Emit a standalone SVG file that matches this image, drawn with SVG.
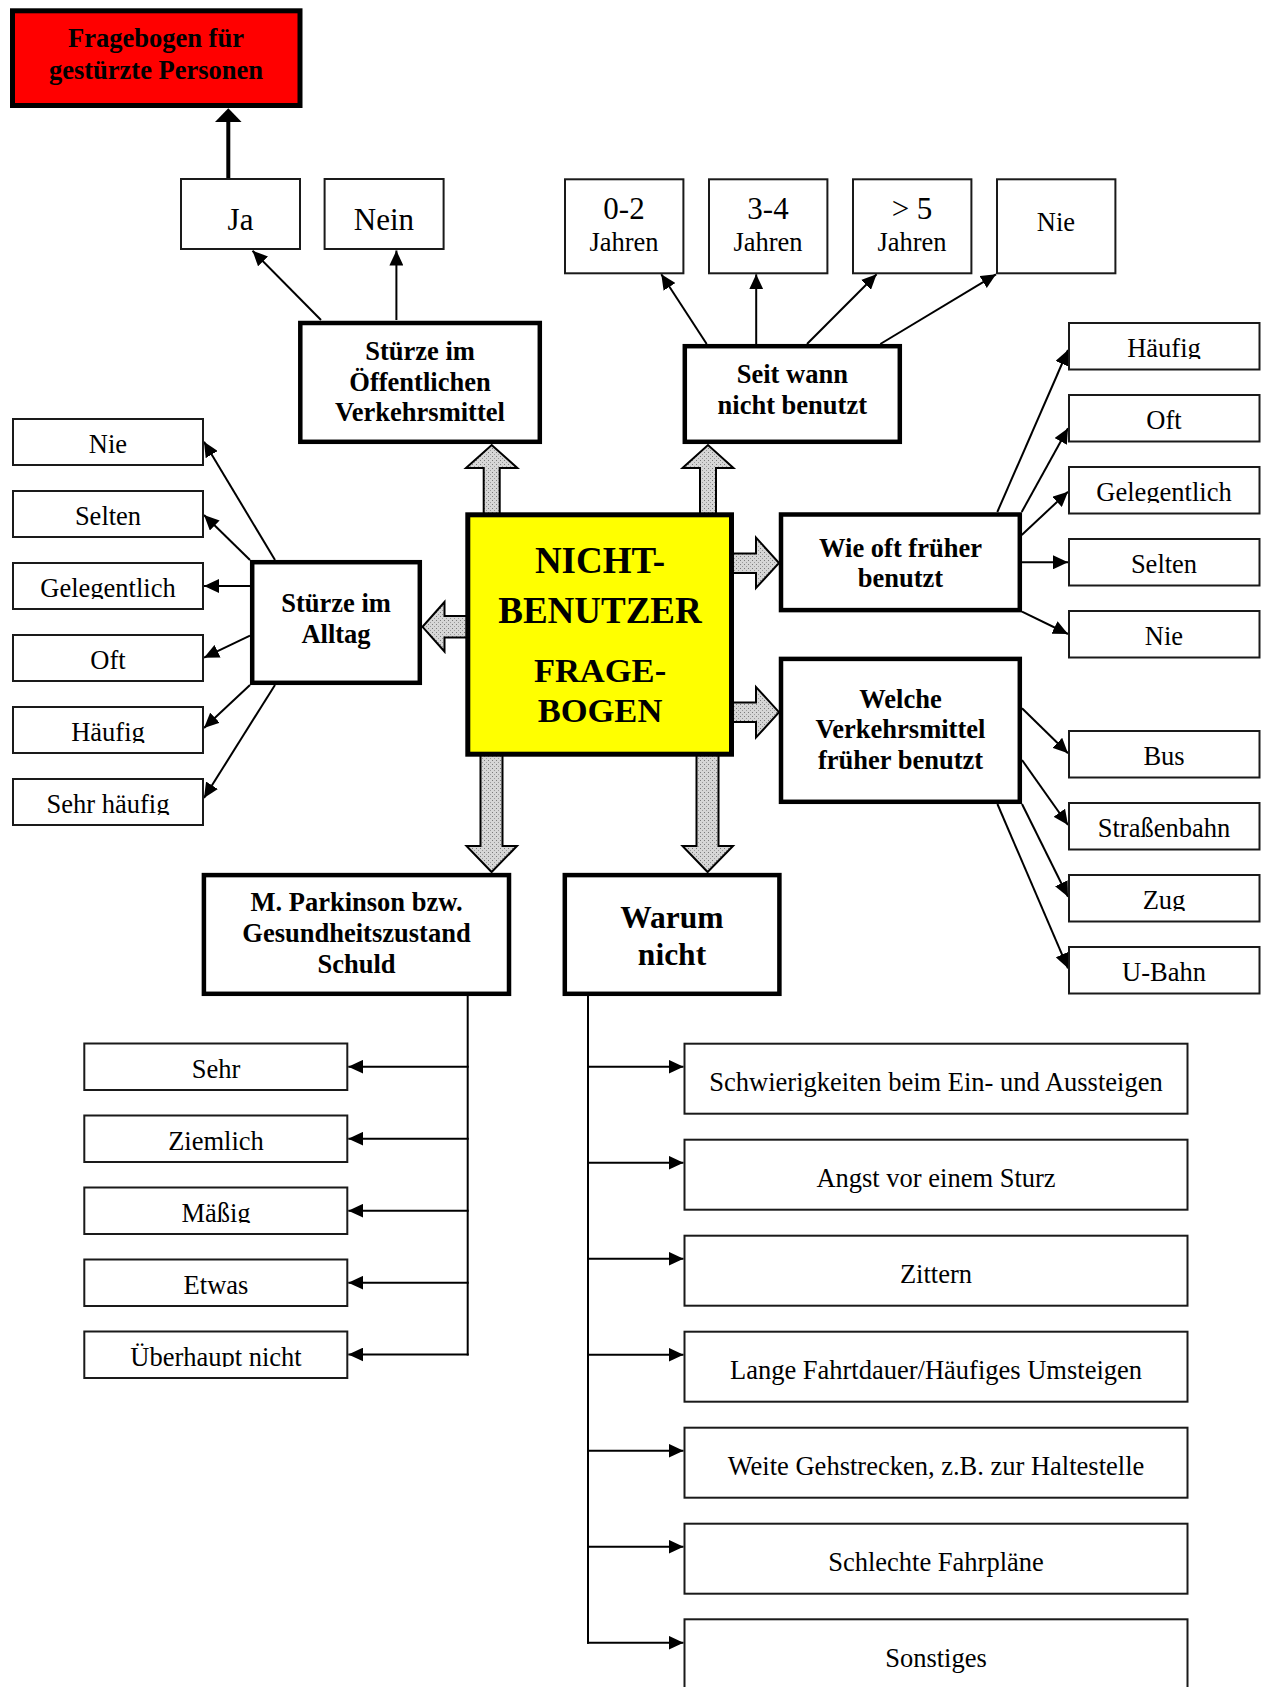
<svg xmlns="http://www.w3.org/2000/svg" width="1266" height="1687" viewBox="0 0 1266 1687">
  <style>
    .opt { fill: #ffffff; stroke: #1a1a1a; stroke-width: 2; }
    .main { fill: #ffffff; stroke: #000000; stroke-width: 4.5; }
    .t { font-family: "Liberation Serif", "Times New Roman", serif; font-size: 26.5px; fill: #000; text-anchor: middle; }
    .b { font-weight: bold; }
    .big { font-size: 31px; }
    .con { stroke: #000; stroke-width: 2; fill: none; marker-end: url(#ah); }
    .hollow { fill: url(#dots); stroke: #000; stroke-width: 2; stroke-linejoin: miter; }
  </style>
  <defs>
    <marker id="ah" markerUnits="userSpaceOnUse" markerWidth="15" markerHeight="14" refX="15" refY="7" orient="auto">
      <path d="M0,0 L15,7 L0,14 z" fill="#000"/>
    </marker>
    <pattern id="dots" patternUnits="userSpaceOnUse" width="4" height="4">
      <rect width="4" height="4" fill="#d6d6d6"/>
      <rect x="0" y="0" width="1" height="1" fill="#7a7a7a"/>
      <rect x="2" y="2" width="1" height="1" fill="#9a9a9a"/>
    </pattern>
    <!-- descenders are cut at the bottom of the text frame -->
    <clipPath id="c-lGel" clipPathUnits="userSpaceOnUse"><rect x="12" y="562" width="192" height="37"/></clipPath>
    <clipPath id="c-lHae" clipPathUnits="userSpaceOnUse"><rect x="12" y="706" width="192" height="37"/></clipPath>
    <clipPath id="c-lSeh" clipPathUnits="userSpaceOnUse"><rect x="12" y="778" width="192" height="37"/></clipPath>
    <clipPath id="c-rHae" clipPathUnits="userSpaceOnUse"><rect x="1068" y="322" width="193" height="37"/></clipPath>
    <clipPath id="c-rGel" clipPathUnits="userSpaceOnUse"><rect x="1068" y="466" width="193" height="37"/></clipPath>
    <clipPath id="c-rZug" clipPathUnits="userSpaceOnUse"><rect x="1068" y="874" width="193" height="37"/></clipPath>
    <clipPath id="c-Mae" clipPathUnits="userSpaceOnUse"><rect x="84" y="1186" width="264" height="37"/></clipPath>
    <clipPath id="c-Ueb" clipPathUnits="userSpaceOnUse"><rect x="84" y="1330" width="264" height="37"/></clipPath>
  </defs>

  <rect width="1266" height="1687" fill="#ffffff"/>

  <!-- connectors -->
  <g id="connectors">
    <!-- hatched block arrows around the central node -->
    <polygon class="hollow" points="483.7,514 483.7,468 466,468 491.7,445 517.4,468 499.7,468 499.7,514"/>
    <polygon class="hollow" points="700,514 700,468 682.5,468 708,445 733.5,468 716,468 716,514"/>
    <polygon class="hollow" points="467,616 444.5,616 444.5,602 422.5,626.8 444.5,651.5 444.5,637.5 467,637.5"/>
    <polygon class="hollow" points="732,553.5 756,553.5 756,537.5 779,563 756,588 756,573 732,573"/>
    <polygon class="hollow" points="732,702.5 756,702.5 756,687 779,712.2 756,737.5 756,722 732,722"/>
    <polygon class="hollow" points="480.5,755 480.5,846 466.5,846 491.6,872 517,846 502.5,846 502.5,755"/>
    <polygon class="hollow" points="696.5,755 696.5,846 682.5,846 707.6,872 733,846 718.5,846 718.5,755"/>

    <!-- Ja to the follow-up questionnaire -->
    <line x1="228.3" y1="178" x2="228.3" y2="120" stroke="#000" stroke-width="4"/>
    <polygon points="215,122 241.6,122 228.3,108.3" fill="#000"/>

    <!-- Stürze im Öffentlichen Verkehrsmittel -->
    <line class="con" x1="321" y1="320" x2="252.5" y2="250.7"/>
    <line class="con" x1="396.4" y1="320" x2="396.4" y2="250.5"/>

    <!-- Seit wann nicht benutzt -->
    <line class="con" x1="706.7" y1="344" x2="661.3" y2="274.3"/>
    <line class="con" x1="756.2" y1="344" x2="756.2" y2="274.3"/>
    <line class="con" x1="807" y1="344" x2="876.6" y2="274.3"/>
    <line class="con" x1="880.3" y1="344" x2="996" y2="274.3"/>

    <!-- Stürze im Alltag -->
    <line class="con" x1="275" y1="560" x2="204" y2="441.7"/>
    <line class="con" x1="250" y1="560" x2="204" y2="515"/>
    <line class="con" x1="250" y1="586" x2="204" y2="586"/>
    <line class="con" x1="250" y1="635.7" x2="204" y2="657.7"/>
    <line class="con" x1="250" y1="685" x2="204" y2="728"/>
    <line class="con" x1="275" y1="685" x2="204" y2="798"/>

    <!-- Wie oft früher benutzt -->
    <line class="con" x1="997.3" y1="512" x2="1068" y2="350"/>
    <line class="con" x1="1021.7" y1="512" x2="1068" y2="428.3"/>
    <line class="con" x1="1021.7" y1="535" x2="1068" y2="491.7"/>
    <line class="con" x1="1022" y1="562.3" x2="1068" y2="562.3"/>
    <line class="con" x1="1022" y1="611.7" x2="1068" y2="634"/>

    <!-- Welche Verkehrsmittel früher benutzt -->
    <line class="con" x1="1022" y1="708.3" x2="1068" y2="753.3"/>
    <line class="con" x1="1022" y1="760" x2="1068" y2="825"/>
    <line class="con" x1="1022" y1="804" x2="1068" y2="896.7"/>
    <line class="con" x1="997.4" y1="804" x2="1068" y2="968.3"/>

    <!-- M. Parkinson bzw. Gesundheitszustand Schuld -->
    <line x1="467.7" y1="996" x2="467.7" y2="1355.5" stroke="#000" stroke-width="2"/>
    <line class="con" x1="468.7" y1="1066.7" x2="348.3" y2="1066.7"/>
    <line class="con" x1="468.7" y1="1138.7" x2="348.3" y2="1138.7"/>
    <line class="con" x1="468.7" y1="1210.7" x2="348.3" y2="1210.7"/>
    <line class="con" x1="468.7" y1="1282.7" x2="348.3" y2="1282.7"/>
    <line class="con" x1="468.7" y1="1354.5" x2="348.3" y2="1354.5"/>

    <!-- Warum nicht -->
    <line x1="588" y1="996" x2="588" y2="1643.7" stroke="#000" stroke-width="2"/>
    <line class="con" x1="587" y1="1066.7" x2="683.5" y2="1066.7"/>
    <line class="con" x1="587" y1="1162.7" x2="683.5" y2="1162.7"/>
    <line class="con" x1="587" y1="1258.7" x2="683.5" y2="1258.7"/>
    <line class="con" x1="587" y1="1354.7" x2="683.5" y2="1354.7"/>
    <line class="con" x1="587" y1="1450.7" x2="683.5" y2="1450.7"/>
    <line class="con" x1="587" y1="1546.7" x2="683.5" y2="1546.7"/>
    <line class="con" x1="587" y1="1642.7" x2="683.5" y2="1642.7"/>
  </g>

  <!-- follow-up questionnaire -->
  <g id="node-gestuerzte">
    <rect x="12.5" y="10.8" width="287.5" height="94.7" fill="#ff0000" stroke="#000" stroke-width="5"/>
    <text class="t b" x="156" y="47">Fragebogen für</text>
    <text class="t b" x="156" y="79">gestürzte Personen</text>
  </g>

  <!-- central node -->
  <g id="node-center">
    <rect x="467.8" y="514.8" width="263.7" height="239.4" fill="#ffff00" stroke="#000" stroke-width="5"/>
    <text class="t b" x="600" y="573.3" style="font-size:37px">NICHT-</text>
    <text class="t b" x="600" y="622.7" style="font-size:37px">BENUTZER</text>
    <text class="t b" x="600" y="681.7" style="font-size:34.5px">FRAGE-</text>
    <text class="t b" x="600" y="721.7" style="font-size:34.5px">BOGEN</text>
  </g>

  <!-- question nodes -->
  <g id="node-oeffentlich">
    <rect class="main" x="300.3" y="323" width="239.5" height="118.8"/>
    <text class="t b" x="420" y="360">Stürze im</text>
    <text class="t b" x="420" y="390.5">Öffentlichen</text>
    <text class="t b" x="420" y="421">Verkehrsmittel</text>
  </g>
  <g id="node-seitwann">
    <rect class="main" x="684.8" y="346.2" width="215" height="95.6"/>
    <text class="t b" x="792.3" y="382.7">Seit wann</text>
    <text class="t b" x="792.3" y="414">nicht benutzt</text>
  </g>
  <g id="node-alltag">
    <rect class="main" x="252.2" y="562.2" width="167.6" height="120.6"/>
    <text class="t b" x="336" y="611.7">Stürze im</text>
    <text class="t b" x="336" y="642.7">Alltag</text>
  </g>
  <g id="node-wieoft">
    <rect class="main" x="781" y="514.5" width="238.8" height="95.6"/>
    <text class="t b" x="900.5" y="557.3">Wie oft früher</text>
    <text class="t b" x="900.5" y="587.3">benutzt</text>
  </g>
  <g id="node-welche">
    <rect class="main" x="781" y="658.9" width="238.8" height="142.9"/>
    <text class="t b" x="900.5" y="707.7">Welche</text>
    <text class="t b" x="900.5" y="738.3">Verkehrsmittel</text>
    <text class="t b" x="900.5" y="769.3">früher benutzt</text>
  </g>
  <g id="node-parkinson">
    <rect class="main" x="203.9" y="875.1" width="305.1" height="118.7"/>
    <text class="t b" x="356.5" y="911.4">M. Parkinson bzw.</text>
    <text class="t b" x="356.5" y="941.8">Gesundheitszustand</text>
    <text class="t b" x="356.5" y="972.9">Schuld</text>
  </g>
  <g id="node-warum">
    <rect class="main" x="564.8" y="875.1" width="214.6" height="118.7"/>
    <text class="t b" x="672" y="928.2" style="font-size:31.5px">Warum</text>
    <text class="t b" x="672" y="965" style="font-size:31.5px">nicht</text>
  </g>

  <!-- answers: Stürze im Öffentlichen Verkehrsmittel -->
  <g id="opt-ja">
    <rect class="opt" x="181" y="179" width="119" height="70"/>
    <text class="t big" x="240.5" y="230">Ja</text>
  </g>
  <g id="opt-nein">
    <rect class="opt" x="324.6" y="179" width="119" height="70"/>
    <text class="t big" x="384" y="230">Nein</text>
  </g>

  <!-- answers: Seit wann nicht benutzt -->
  <g id="opt-0-2">
    <rect class="opt" x="565" y="179.3" width="118.4" height="94"/>
    <text class="t big" x="624" y="219">0-2</text>
    <text class="t" x="624" y="250.7">Jahren</text>
  </g>
  <g id="opt-3-4">
    <rect class="opt" x="709" y="179.3" width="118.4" height="94"/>
    <text class="t big" x="768" y="219">3-4</text>
    <text class="t" x="768" y="250.7">Jahren</text>
  </g>
  <g id="opt-5">
    <rect class="opt" x="853" y="179.3" width="118.4" height="94"/>
    <text class="t big" x="912" y="219">&gt; 5</text>
    <text class="t" x="912" y="250.7">Jahren</text>
  </g>
  <g id="opt-nie-top">
    <rect class="opt" x="997" y="179.3" width="118.4" height="94"/>
    <text class="t" x="1056" y="231">Nie</text>
  </g>

  <!-- answers: Stürze im Alltag -->
  <g id="opt-l-nie">
    <rect class="opt" x="13" y="419" width="190" height="46"/>
    <text class="t" x="108" y="453">Nie</text>
  </g>
  <g id="opt-l-selten">
    <rect class="opt" x="13" y="491" width="190" height="46"/>
    <text class="t" x="108" y="525">Selten</text>
  </g>
  <g id="opt-l-gelegentlich">
    <rect class="opt" x="13" y="563" width="190" height="46"/>
    <text class="t" x="108" y="597" clip-path="url(#c-lGel)">Gelegentlich</text>
  </g>
  <g id="opt-l-oft">
    <rect class="opt" x="13" y="635" width="190" height="46"/>
    <text class="t" x="108" y="669">Oft</text>
  </g>
  <g id="opt-l-haeufig">
    <rect class="opt" x="13" y="707" width="190" height="46"/>
    <text class="t" x="108" y="741" clip-path="url(#c-lHae)">Häufig</text>
  </g>
  <g id="opt-l-sehrhaeufig">
    <rect class="opt" x="13" y="779" width="190" height="46"/>
    <text class="t" x="108" y="813" clip-path="url(#c-lSeh)">Sehr häufig</text>
  </g>

  <!-- answers: Wie oft früher benutzt -->
  <g id="opt-r-haeufig">
    <rect class="opt" x="1069" y="323" width="190.5" height="46.5"/>
    <text class="t" x="1164" y="357" clip-path="url(#c-rHae)">Häufig</text>
  </g>
  <g id="opt-r-oft">
    <rect class="opt" x="1069" y="395" width="190.5" height="46.5"/>
    <text class="t" x="1164" y="429">Oft</text>
  </g>
  <g id="opt-r-gelegentlich">
    <rect class="opt" x="1069" y="467" width="190.5" height="46.5"/>
    <text class="t" x="1164" y="501" clip-path="url(#c-rGel)">Gelegentlich</text>
  </g>
  <g id="opt-r-selten">
    <rect class="opt" x="1069" y="539" width="190.5" height="46.5"/>
    <text class="t" x="1164" y="573">Selten</text>
  </g>
  <g id="opt-r-nie">
    <rect class="opt" x="1069" y="611" width="190.5" height="46.5"/>
    <text class="t" x="1164" y="645">Nie</text>
  </g>

  <!-- answers: Welche Verkehrsmittel -->
  <g id="opt-bus">
    <rect class="opt" x="1069" y="731" width="190.5" height="46.5"/>
    <text class="t" x="1164" y="765">Bus</text>
  </g>
  <g id="opt-strassenbahn">
    <rect class="opt" x="1069" y="803" width="190.5" height="46.5"/>
    <text class="t" x="1164" y="837">Straßenbahn</text>
  </g>
  <g id="opt-zug">
    <rect class="opt" x="1069" y="875" width="190.5" height="46.5"/>
    <text class="t" x="1164" y="909" clip-path="url(#c-rZug)">Zug</text>
  </g>
  <g id="opt-ubahn">
    <rect class="opt" x="1069" y="947" width="190.5" height="46.5"/>
    <text class="t" x="1164" y="981">U-Bahn</text>
  </g>

  <!-- answers: Gesundheitszustand -->
  <g id="opt-sehr">
    <rect class="opt" x="84.3" y="1043.5" width="263" height="46.5"/>
    <text class="t" x="216" y="1077.5">Sehr</text>
  </g>
  <g id="opt-ziemlich">
    <rect class="opt" x="84.3" y="1115.5" width="263" height="46.5"/>
    <text class="t" x="216" y="1149.5">Ziemlich</text>
  </g>
  <g id="opt-maessig">
    <rect class="opt" x="84.3" y="1187.5" width="263" height="46.5"/>
    <text class="t" x="216" y="1221.5" clip-path="url(#c-Mae)">Mäßig</text>
  </g>
  <g id="opt-etwas">
    <rect class="opt" x="84.3" y="1259.5" width="263" height="46.5"/>
    <text class="t" x="216" y="1293.5">Etwas</text>
  </g>
  <g id="opt-ueberhaupt">
    <rect class="opt" x="84.3" y="1331.5" width="263" height="46.5"/>
    <text class="t" x="216" y="1365.5" clip-path="url(#c-Ueb)">Überhaupt nicht</text>
  </g>

  <!-- answers: Warum nicht -->
  <g id="opt-schwierigkeiten">
    <rect class="opt" x="684.5" y="1043.7" width="503" height="70"/>
    <text class="t" x="936" y="1090.7">Schwierigkeiten beim Ein- und Aussteigen</text>
  </g>
  <g id="opt-angst">
    <rect class="opt" x="684.5" y="1139.7" width="503" height="70"/>
    <text class="t" x="936" y="1186.7">Angst vor einem Sturz</text>
  </g>
  <g id="opt-zittern">
    <rect class="opt" x="684.5" y="1235.7" width="503" height="70"/>
    <text class="t" x="936" y="1282.7">Zittern</text>
  </g>
  <g id="opt-fahrtdauer">
    <rect class="opt" x="684.5" y="1331.7" width="503" height="70"/>
    <text class="t" x="936" y="1378.7">Lange Fahrtdauer/Häufiges Umsteigen</text>
  </g>
  <g id="opt-gehstrecken">
    <rect class="opt" x="684.5" y="1427.7" width="503" height="70"/>
    <text class="t" x="936" y="1474.7">Weite Gehstrecken, z.B. zur Haltestelle</text>
  </g>
  <g id="opt-fahrplaene">
    <rect class="opt" x="684.5" y="1523.7" width="503" height="70"/>
    <text class="t" x="936" y="1570.7">Schlechte Fahrpläne</text>
  </g>
  <g id="opt-sonstiges">
    <rect class="opt" x="684.5" y="1619.3" width="503" height="70"/>
    <text class="t" x="936" y="1666.7">Sonstiges</text>
  </g>
</svg>
